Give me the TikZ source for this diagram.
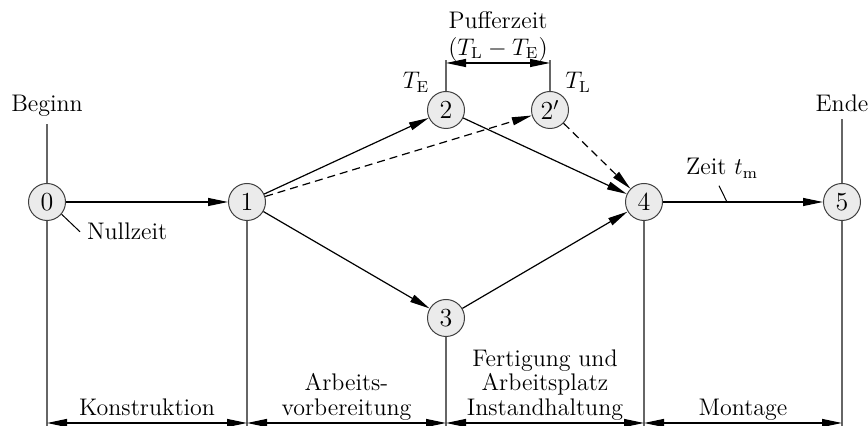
\documentclass[tikz,border=0pt]{standalone}
\usepackage{amsmath,amssymb}
\usepackage{tikz}
\usetikzlibrary{arrows.meta}

\begin{document}
\begin{tikzpicture}[
        x=0.5pt,y=-0.5pt,
        font=\fontsize{12}{12.25}\selectfont,
        event/.style={circle,draw=black!75,fill=black!8,line width=0.5pt,minimum size=18.5pt,inner sep=0pt,font=\fontsize{13}{13}\selectfont},
        activity/.style={-{Triangle[length=10pt,width=4pt]},line width=0.6pt},
        dummy/.style={activity,dash pattern=on 4pt off 2.5pt},
        guide/.style={draw=black!60,line width=0.6pt},
        leader/.style={draw=black,line width=0.5pt},
        span/.style={{Triangle[length=10pt,width=4pt]}-{Triangle[length=10pt,width=4pt]},line width=0.6pt},
        phase/.style={align=center,inner sep=0pt}
    ]
        \useasboundingbox (0,0) rectangle (868,426);

        % Events
        \node[event] (0) at (47,202) {0};
        \node[event] (1) at (247,202) {1};
        \node[event] (2) at (446,110) {2};
        \node[event] (2p) at (550,110) {2$'$};
        \node[event] (3) at (446,318) {3};
        \node[event] (4) at (644,202) {4};
        \node[event] (5) at (842,202) {5};

        % Activities
        \draw[activity] (0) -- (1);
        \draw[activity] (1) -- (2);
        \draw[activity] (1) -- (3);
        \draw[activity] (2) -- (4);
        \draw[activity] (3) -- (4);
        \draw[activity] (4) -- coordinate[pos=0.4] (tm) (5);
        \draw[dummy] (1) -- (2p);
        \draw[dummy] (2p) -- (4);

        % Labels
        \node[anchor=base] (beginn) at (47,112) {Beginn};
        \node[anchor=base] (ende) at (842,112) {Ende};
        \node[anchor=base west] (nullzeit) at (80,240) {Nullzeit};
        \node[anchor=base] (zeit) at (722,175) {Zeit $t_{\mathrm{m}}$};
        \node[anchor=base] (te) at (416,89) {$T_{\mathrm{E}}$};
        \node[anchor=base] (tl) at (578,89) {$T_{\mathrm{L}}$};
        \draw[leader] (0.-40) -- (nullzeit.west);
        \draw[leader] ([xshift=-1.5pt]zeit.south) -- (tm);

        % Time axis
        \coordinate (top) at (0,60);
        \coordinate (buf) at (0,63);
        \coordinate (dim) at (0,423);
        \coordinate (base) at (0,426);
        \draw[guide] (0) -- (beginn);
        \draw[guide] (5) -- (ende);
        \foreach \n in {0,1,3,4,5}
            \draw[guide] (\n) -- (\n |- base);
        \draw[guide] (2) -- (2 |- top);
        \draw[guide] (2p) -- (2p |- top);

        % Pufferzeit and phases
        \draw[span] (2 |- buf) -- node[phase,above] {Pufferzeit\\[1pt]($T_{\mathrm{L}}-T_{\mathrm{E}}$)\strut} (2p |- buf);
        \draw[span] (0 |- dim) -- node[phase,above] {Konstruktion\strut} (1 |- dim);
        \draw[span] (1 |- dim) -- node[phase,above] {Arbeits-\\vorbereitung\strut} (3 |- dim);
        \draw[span] (3 |- dim) -- node[phase,above] {Fertigung und\\Arbeitsplatz\\Instandhaltung\strut} (4 |- dim);
        \draw[span] (4 |- dim) -- node[phase,above] {Montage\strut} (5 |- dim);
\end{tikzpicture}
\end{document}
